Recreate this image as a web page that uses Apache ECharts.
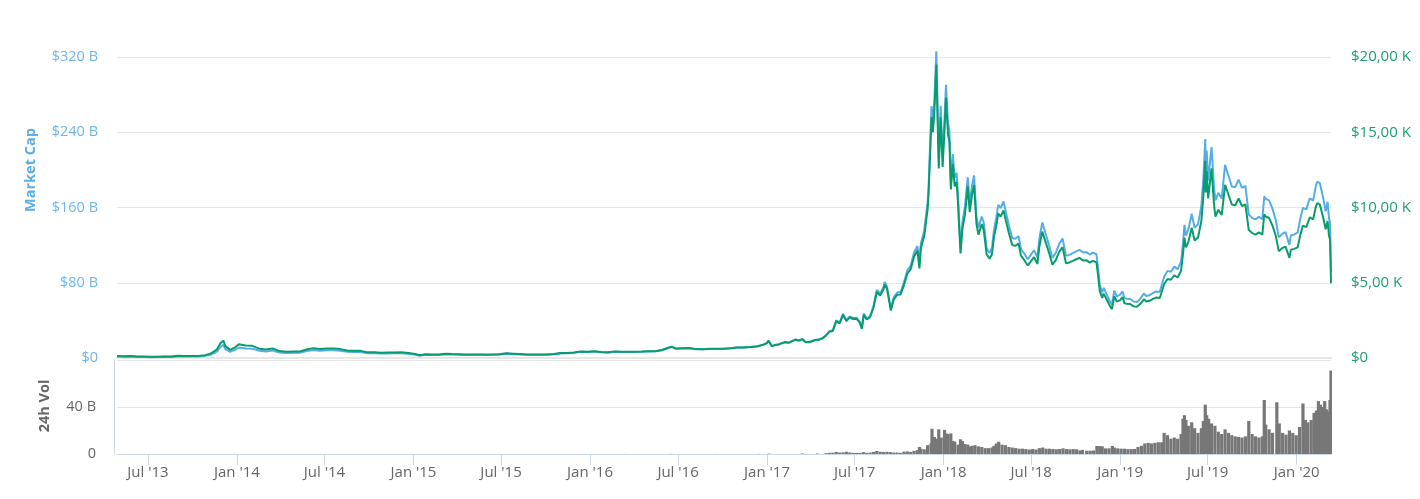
<!DOCTYPE html>
<html><head><meta charset="utf-8">
<script src="https://cdn.jsdelivr.net/npm/echarts@6/dist/echarts.min.js"></script>
<style>html,body{margin:0;padding:0;background:#fff}#c{width:1420px;height:499px}</style>
</head><body><div id="c"></div>
<script>
// ---- data ----
const lineDates = [
'2013-04-28','2013-05-12','2013-05-26','2013-06-09','2013-06-23','2013-07-07','2013-07-21','2013-08-04','2013-08-18','2013-09-01','2013-09-15','2013-09-29','2013-10-13','2013-10-27','2013-11-07','2013-11-14','2013-11-21','2013-11-28','2013-12-04','2013-12-08','2013-12-12','2013-12-18','2013-12-22','2013-12-29',
'2014-01-05','2014-01-19','2014-02-02','2014-02-16','2014-03-02','2014-03-16','2014-03-30','2014-04-13','2014-04-27','2014-05-11','2014-05-25','2014-06-08','2014-06-22','2014-07-06','2014-07-20','2014-08-03','2014-08-17','2014-08-31','2014-09-14','2014-09-28','2014-10-12','2014-10-26','2014-11-09','2014-11-23','2014-12-07','2014-12-21',
'2015-01-04','2015-01-14','2015-01-25','2015-02-08','2015-02-22','2015-03-08','2015-03-22','2015-04-05','2015-04-19','2015-05-03','2015-05-17','2015-05-31','2015-06-14','2015-06-28','2015-07-12','2015-07-26','2015-08-09','2015-08-23','2015-09-06','2015-09-20','2015-10-04','2015-10-18','2015-11-01','2015-11-04','2015-11-15','2015-11-29','2015-12-13','2015-12-27',
'2016-01-10','2016-01-24','2016-02-07','2016-02-21','2016-03-06','2016-03-20','2016-04-03','2016-04-17','2016-05-01','2016-05-15','2016-05-29','2016-06-12','2016-06-18','2016-06-26','2016-07-10','2016-07-24','2016-08-07','2016-08-21','2016-09-04','2016-09-18','2016-10-02','2016-10-16','2016-10-30','2016-11-13','2016-11-27','2016-12-11','2016-12-25',
'2017-01-01','2017-01-04','2017-01-11','2017-01-18','2017-01-25','2017-02-01','2017-02-08','2017-02-15','2017-02-22','2017-03-01','2017-03-08','2017-03-15','2017-03-22','2017-03-29','2017-04-05','2017-04-12','2017-04-19','2017-04-26','2017-05-03','2017-05-10','2017-05-17','2017-05-24','2017-05-31','2017-06-07','2017-06-11','2017-06-14','2017-06-21','2017-06-28','2017-07-05','2017-07-12','2017-07-16','2017-07-20','2017-07-26','2017-08-02','2017-08-09','2017-08-16','2017-08-23','2017-08-30','2017-09-01','2017-09-06','2017-09-14','2017-09-20','2017-09-27','2017-10-04','2017-10-11','2017-10-18','2017-10-25','2017-11-01','2017-11-08','2017-11-12','2017-11-15','2017-11-22','2017-11-29','2017-12-01','2017-12-07','2017-12-10','2017-12-13','2017-12-17','2017-12-22','2017-12-26','2017-12-30',
'2018-01-03','2018-01-06','2018-01-10','2018-01-13','2018-01-16','2018-01-20','2018-01-24','2018-01-28','2018-01-31','2018-02-02','2018-02-05','2018-02-09','2018-02-14','2018-02-20','2018-02-24','2018-03-01','2018-03-05','2018-03-10','2018-03-14','2018-03-18','2018-03-21','2018-03-25','2018-03-31','2018-04-06','2018-04-11','2018-04-15','2018-04-20','2018-04-24','2018-04-29','2018-05-05','2018-05-10','2018-05-16','2018-05-23','2018-05-29','2018-06-05','2018-06-10','2018-06-17','2018-06-24','2018-06-30','2018-07-07','2018-07-14','2018-07-18','2018-07-24','2018-07-31','2018-08-07','2018-08-14','2018-08-21','2018-08-28','2018-09-04','2018-09-11','2018-09-18','2018-09-25','2018-10-02','2018-10-09','2018-10-16','2018-10-23','2018-10-30','2018-11-06','2018-11-13','2018-11-16','2018-11-20','2018-11-25','2018-11-28','2018-12-04','2018-12-11','2018-12-15','2018-12-20','2018-12-25',
'2019-01-01','2019-01-06','2019-01-10','2019-01-15','2019-01-22','2019-01-29','2019-02-05','2019-02-12','2019-02-19','2019-02-24','2019-03-03','2019-03-10','2019-03-17','2019-03-24','2019-04-02','2019-04-09','2019-04-16','2019-04-23','2019-04-30','2019-05-07','2019-05-11','2019-05-14','2019-05-17','2019-05-22','2019-05-29','2019-06-04','2019-06-11','2019-06-18','2019-06-22','2019-06-26','2019-06-27','2019-06-29','2019-07-02','2019-07-09','2019-07-14','2019-07-17','2019-07-23','2019-07-30','2019-08-06','2019-08-13','2019-08-20','2019-08-27','2019-09-03','2019-09-10','2019-09-17','2019-09-24','2019-10-01','2019-10-08','2019-10-15','2019-10-22','2019-10-26','2019-10-29','2019-11-05','2019-11-12','2019-11-19','2019-11-25','2019-12-02','2019-12-09','2019-12-17','2019-12-20','2019-12-27',
'2020-01-03','2020-01-08','2020-01-14','2020-01-21','2020-01-28','2020-02-04','2020-02-10','2020-02-13','2020-02-18','2020-02-25','2020-03-01','2020-03-05','2020-03-08','2020-03-10','2020-03-12'
];
const priceUsd = [
134,115,133,100,103,77,91,105,99,146,126,141,141,190,290,420,590,1000,1150,790,880,540,640,730,
920,830,810,620,560,630,460,420,440,440,570,655,600,635,625,590,500,480,475,375,380,350,365,365,375,330,
265,180,250,225,235,275,260,255,225,240,235,230,235,250,310,290,265,230,240,230,240,270,325,400,330,370,435,420,
450,400,375,440,410,410,420,430,450,455,530,700,750,630,650,660,590,580,610,610,615,640,700,705,730,770,890,
1000,1150,780,870,890,990,1050,1010,1120,1220,1150,1250,1040,1040,1130,1200,1220,1310,1490,1750,1800,2450,2300,2870,2960,2450,2700,2590,2610,2330,1930,2870,2560,2710,3340,4380,4150,4580,4890,4600,3150,3900,4200,4220,4830,5600,5900,6750,7140,5950,7300,8100,9900,10900,16000,15000,16400,19500,12600,16000,12700,
15200,17300,14900,14400,11200,12900,11400,11700,10200,8800,6950,8600,9500,11400,9700,10900,11500,8900,8200,8200,8900,8500,6900,6600,6900,8000,8800,9600,9400,9800,9100,8300,7500,7450,7600,6800,6500,6150,6400,6700,6250,7400,8400,7700,7000,6200,6500,7050,7370,6300,6350,6450,6560,6650,6480,6500,6340,6460,6350,5600,4450,4000,4280,3900,3450,3250,4100,3750,
3850,4050,3630,3600,3580,3430,3400,3600,3900,3750,3800,3930,4020,3990,4900,5250,5200,5500,5350,5800,6900,8000,7350,7700,8650,7800,8000,9100,10700,13100,11000,12400,10600,12600,10250,9400,9850,9500,11500,10850,10200,10150,10600,10100,10200,8500,8300,8200,8350,8200,9550,9400,9300,8800,8100,7100,7300,7400,6650,7200,7250,
7350,8100,8800,8700,9350,9200,10100,10300,10200,9300,8550,9100,8100,7900,4970
];
const marketCapB = [
1.49,1.28,1.49,1.13,1.17,0.88,1.04,1.21,1.15,1.70,1.47,1.66,1.66,2.25,3.45,5.02,7.08,12.0,13.86,9.52,10.62,6.53,7.74,8.85,
11.18,10.13,9.92,7.63,6.94,7.84,5.75,5.29,5.57,5.61,7.30,8.42,7.74,8.22,8.13,7.73,6.58,6.34,6.29,4.99,5.07,4.69,4.91,4.93,5.08,4.49,
3.62,2.47,3.44,3.11,3.27,3.84,3.64,3.58,3.17,3.40,3.34,3.28,3.36,3.59,4.46,4.19,3.84,3.35,3.50,3.38,3.54,4.00,4.83,5.94,4.92,5.53,6.53,6.32,
6.80,6.06,5.70,6.71,6.27,6.29,6.47,6.64,6.98,7.08,8.27,10.96,11.76,9.89,10.22,10.40,9.32,9.18,9.67,9.70,9.80,10.21,11.20,11.29,11.72,12.38,14.33,
16.10,18.52,12.57,14.03,14.36,15.99,16.97,16.33,18.12,19.76,18.64,20.28,16.88,16.89,18.37,19.52,19.86,21.35,24.30,28.58,29.41,40.06,37.65,47.01,48.51,40.16,44.28,42.53,42.88,38.31,31.75,47.21,42.14,44.66,55.08,72.27,68.52,75.66,80.83,76.08,52.13,64.58,69.59,70.05,80.23,93.13,98.18,112.5,119.0,99.25,121.8,135.3,165.4,182.3,267.7,251.1,274.5,326.1,211.2,268.2,213.0,
255.1,290.5,250.3,241.9,188.3,216.8,191.7,196.8,171.7,148.1,117.0,144.8,160.1,192.2,163.6,184.0,194.1,150.3,138.6,138.6,150.5,143.7,116.7,111.7,116.9,135.6,149.2,162.8,159.5,166.4,154.6,141.1,127.6,126.8,129.5,115.9,110.9,105.0,109.4,114.6,107.0,126.8,144.0,132.1,120.2,106.5,111.7,121.3,127.0,108.6,109.6,111.4,113.4,115.0,112.2,112.6,110.0,112.1,110.3,97.3,77.3,69.6,74.5,67.9,60.1,56.6,71.5,65.4,
67.3,70.8,63.5,63.0,62.7,60.1,59.6,63.1,68.5,65.9,66.8,69.1,70.8,70.3,86.3,92.6,91.7,97.1,94.5,102.5,122.1,141.5,130.1,136.4,153.3,138.4,142.0,161.6,190.1,232.9,195.6,220.5,188.6,224.3,182.6,167.5,175.6,169.5,205.3,193.8,182.4,181.6,189.7,180.9,182.9,152.5,149.0,147.4,150.1,147.5,171.9,169.2,167.6,158.7,146.1,128.2,131.9,133.8,120.3,130.3,131.3,
133.3,146.9,159.7,158.0,169.9,167.3,183.8,187.6,185.8,169.5,156.0,166.1,147.9,144.3,90.8
];
const volDates = [
'2013-12-27','2014-03-15','2014-06-15','2014-09-15','2014-12-15','2015-03-15','2015-06-15','2015-09-15','2015-12-15','2016-03-15','2016-06-15','2016-09-15','2016-12-15','2017-01-05','2017-03-15','2017-04-15',
'2017-05-03','2017-05-10','2017-05-17','2017-05-24','2017-05-31','2017-06-07','2017-06-14','2017-06-21','2017-06-28','2017-07-05','2017-07-12','2017-07-19','2017-07-26','2017-08-02','2017-08-09','2017-08-16','2017-08-23','2017-08-30','2017-09-06','2017-09-13','2017-09-20','2017-09-27','2017-10-04','2017-10-11','2017-10-18','2017-10-25','2017-11-01','2017-11-08','2017-11-12','2017-11-15','2017-11-22','2017-11-29','2017-12-06','2017-12-08','2017-12-13','2017-12-17','2017-12-22','2017-12-27',
'2018-01-03','2018-01-06','2018-01-10','2018-01-16','2018-01-20','2018-01-24','2018-01-31','2018-02-05','2018-02-09','2018-02-14','2018-02-20','2018-02-24','2018-03-01','2018-03-07','2018-03-14','2018-03-21','2018-03-28','2018-04-04','2018-04-11','2018-04-15','2018-04-20','2018-04-25','2018-05-02','2018-05-09','2018-05-16','2018-05-23','2018-05-30','2018-06-06','2018-06-13','2018-06-20','2018-06-27','2018-07-04','2018-07-11','2018-07-18','2018-07-25','2018-08-01','2018-08-08','2018-08-15','2018-08-22','2018-08-29','2018-09-05','2018-09-12','2018-09-19','2018-09-26','2018-10-03','2018-10-10','2018-10-15','2018-10-24','2018-10-31','2018-11-07','2018-11-14','2018-11-20','2018-11-25','2018-12-02','2018-12-09','2018-12-16','2018-12-20','2018-12-27',
'2019-01-03','2019-01-10','2019-01-17','2019-01-24','2019-01-31','2019-02-07','2019-02-14','2019-02-21','2019-02-28','2019-03-07','2019-03-14','2019-03-21','2019-03-28','2019-04-02','2019-04-09','2019-04-16','2019-04-23','2019-04-30','2019-05-07','2019-05-11','2019-05-14','2019-05-17','2019-05-22','2019-05-29','2019-06-04','2019-06-11','2019-06-18','2019-06-22','2019-06-26','2019-06-29','2019-07-03','2019-07-09','2019-07-16','2019-07-23','2019-07-30','2019-08-06','2019-08-13','2019-08-20','2019-08-27','2019-09-03','2019-09-10','2019-09-17','2019-09-24','2019-10-01','2019-10-08','2019-10-15','2019-10-22','2019-10-26','2019-10-29','2019-11-05','2019-11-12','2019-11-21','2019-11-26','2019-12-03','2019-12-10','2019-12-17','2019-12-24','2019-12-31',
'2020-01-07','2020-01-14','2020-01-19','2020-01-24','2020-01-31','2020-02-06','2020-02-11','2020-02-15','2020-02-19','2020-02-24','2020-02-28','2020-03-03','2020-03-07','2020-03-10','2020-03-12'
];
const volumeB = [
0.05,0.03,0.02,0.02,0.02,0.03,0.02,0.03,0.06,0.06,0.15,0.08,0.1,0.3,0.4,0.4,
0.7,1.0,1.1,1.8,1.2,1.4,1.9,1.3,1.0,0.9,0.9,1.6,1.0,1.2,1.8,2.6,1.9,1.7,1.9,1.6,1.2,1.2,1.0,2.0,2.2,1.8,2.7,3.3,6.0,4.5,4.0,7.5,9.0,21.5,14.5,13.0,21.0,14.0,
20.5,17.5,17.0,17.5,11.0,10.5,8.0,12.5,11.0,8.5,8.0,6.5,7.0,7.5,6.5,6.0,5.0,5.0,5.5,7.0,9.0,10.4,8.0,7.5,6.0,5.5,5.0,4.5,4.5,4.2,3.8,4.2,3.8,5.0,5.5,4.5,4.5,4.3,4.0,4.3,4.8,4.2,4.0,4.2,4.0,3.0,3.5,2.8,2.8,3.0,6.8,6.8,6.5,4.8,4.8,6.8,5.5,4.8,
4.5,4.5,4.2,4.2,4.3,6.0,7.0,9.0,9.5,9.0,9.5,10.0,10.0,18.0,16.0,13.0,14.0,13.0,17.0,30.0,33.0,29.0,24.0,27.0,22.0,18.0,22.0,28.0,42.0,33.0,30.0,26.0,24.0,19.0,17.0,21.0,18.0,16.0,15.0,14.5,14.0,15.0,28.0,17.0,15.0,14.0,15.0,46.0,25.0,21.0,18.0,44.0,26.0,18.0,16.5,20.0,18.0,16.0,
23.0,43.0,29.0,27.0,29.0,35.0,37.0,45.0,42.0,40.0,45.0,38.0,36.0,46.0,71.0
];
const xTickDates = ['2013-07-01','2014-01-01','2014-07-01','2015-01-01','2015-07-01','2016-01-01','2016-07-01','2017-01-01','2017-07-01','2018-01-01','2018-07-01','2019-01-01','2019-07-01','2020-01-01'];
const xTickLabels = ["Jul '13","Jan '14","Jul '14","Jan '15","Jul '15","Jan '16","Jul '16","Jan '17","Jul '17","Jan '18","Jul '18","Jan '19","Jul '19","Jan '20"];
const mcapTicks = [0,80,160,240,320];
const mcapTickLabels = ['$0','$80 B','$160 B','$240 B','$320 B'];
const priceTicks = [0,5000,10000,15000,20000];
const priceTickLabels = ['$0','$5,00 K','$10,00 K','$15,00 K','$20,00 K'];
const volTicks = [0,40,80];
const volTickLabels = ['0','40 B',''];

// ---- chart ----
function ts(s){const p=s.split('-').map(Number);return Date.UTC(p[0],p[1]-1,p[2]);}
if (lineDates.length!==priceUsd.length || lineDates.length!==marketCapB.length || volDates.length!==volumeB.length)
  console.error('length mismatch', lineDates.length, priceUsd.length, marketCapB.length, volDates.length, volumeB.length);
const xMin = ts('2013-04-28'), xMax = ts('2020-03-12');
const tickTs = xTickDates.map(ts);
const FONT = '"Open Sans", "DejaVu Sans", sans-serif';
const chart = echarts.init(document.getElementById('c'), null, {renderer:'canvas'});
chart.setOption({
  animation:false,
  backgroundColor:'#fff',
  grid:[
    {left:117, right:89, top:57, height:301},
    {left:117, right:89, top:360, height:94}
  ],
  xAxis:[
    {type:'value', gridIndex:0, min:xMin, max:xMax,
     axisLine:{show:true, lineStyle:{color:'#e6e6e6', width:2}},
     axisTick:{show:false}, axisLabel:{show:false}, splitLine:{show:false}},
    {type:'value', gridIndex:1, min:xMin, max:xMax,
     axisLine:{show:true, lineStyle:{color:'#ccd6eb', width:1}},
     axisTick:{show:true, length:11, lineStyle:{color:'#ccd6eb'}, customValues:tickTs},
     axisLabel:{show:true, customValues:tickTs, margin:11, color:'#666', fontSize:15, fontFamily:FONT,
       formatter:(v)=>{const i=tickTs.indexOf(v);return i>=0?xTickLabels[i]:'';}},
     splitLine:{show:false}}
  ],
  yAxis:[
    {type:'value', gridIndex:0, position:'left', min:0, max:320, interval:80,
     axisLine:{show:false}, axisTick:{show:false},
     axisLabel:{margin:19, color:'#6fb6ea', fontSize:14.5, fontFamily:FONT,
       formatter:(v)=>mcapTickLabels[mcapTicks.indexOf(v)]},
     splitLine:{show:true, lineStyle:{color:'#e6e6e6', width:1}}},
    {type:'value', gridIndex:0, position:'right', min:0, max:20000, interval:5000,
     axisLine:{show:false}, axisTick:{show:false},
     axisLabel:{margin:20, color:'#1f9e72', fontSize:15, fontFamily:FONT,
       formatter:(v)=>priceTickLabels[priceTicks.indexOf(v)]},
     splitLine:{show:false}},
    {type:'value', gridIndex:1, position:'left', min:0, max:80, interval:40, offset:3,
     axisLine:{show:true, lineStyle:{color:'#ccd6eb'}}, axisTick:{show:false},
     axisLabel:{margin:18, color:'#666', fontSize:14.5, fontFamily:FONT,
       formatter:(v)=>volTickLabels[volTicks.indexOf(v)]},
     splitLine:{show:true, lineStyle:{color:'#e6e6e6', width:1}}}
  ],
  graphic:[
    {type:'text', x:31, y:170, rotation:Math.PI/2,
     style:{text:'Market Cap', fill:'#5aafe6', font:'bold 14.5px '+FONT, align:'center', verticalAlign:'middle'}},
    {type:'text', x:45, y:406, rotation:Math.PI/2,
     style:{text:'24h Vol', fill:'#666', font:'bold 14.5px '+FONT, align:'center', verticalAlign:'middle'}}
  ],
  series:[
    {name:'Market Cap', type:'line', xAxisIndex:0, yAxisIndex:0, showSymbol:false, clip:false,
     lineStyle:{color:'#55ade8', width:2}, itemStyle:{color:'#55ade8'},
     data:lineDates.map((d,i)=>[ts(d), marketCapB[i]])},
    {name:'Price', type:'line', xAxisIndex:0, yAxisIndex:1, showSymbol:false, clip:false,
     lineStyle:{color:'#079c6d', width:2}, itemStyle:{color:'#079c6d'},
     data:lineDates.map((d,i)=>[ts(d), priceUsd[i]])},
    {name:'24h Vol', type:'bar', xAxisIndex:1, yAxisIndex:2, barWidth:3.2,
     itemStyle:{color:'#777'},
     data:volDates.map((d,i)=>[ts(d), volumeB[i]])}
  ]
});
</script></body></html>
